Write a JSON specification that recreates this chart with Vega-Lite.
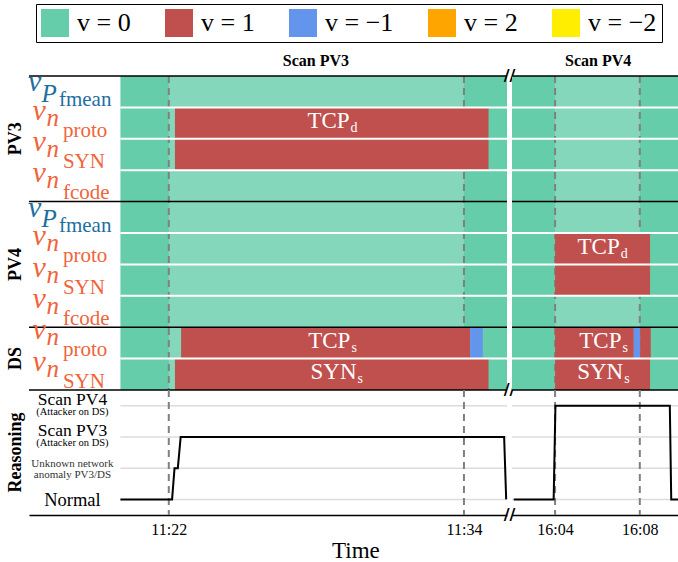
{
  "$schema": "https://vega.github.io/schema/vega-lite/v6.json",
  "background": "white",
  "padding": {"left": 6, "top": 3, "right": 0, "bottom": 4},
  "bounds": "flush",
  "columns": 2,
  "spacing": {"row": 0, "column": 5},
  "config": {"font": "Liberation Serif", "view": {"stroke": null}},
  "title": {"text": "Time", "orient": "bottom", "anchor": "middle", "fontSize": 23, "fontWeight": "normal", "font": "Liberation Serif", "color": "black", "offset": 3, "dx": 11},
  "datasets": {
    "rows": [
      {"row": "PV3 P_fmean", "grp": "PV3", "sym": "v", "var": "P", "sub": "fmean"},
      {"row": "PV3 n_proto", "grp": "PV3", "sym": "v", "var": "n", "sub": "proto"},
      {"row": "PV3 n_SYN", "grp": "PV3", "sym": "v", "var": "n", "sub": "SYN"},
      {"row": "PV3 n_fcode", "grp": "PV3", "sym": "v", "var": "n", "sub": "fcode"},
      {"row": "PV4 P_fmean", "grp": "PV4", "sym": "v", "var": "P", "sub": "fmean"},
      {"row": "PV4 n_proto", "grp": "PV4", "sym": "v", "var": "n", "sub": "proto"},
      {"row": "PV4 n_SYN", "grp": "PV4", "sym": "v", "var": "n", "sub": "SYN"},
      {"row": "PV4 n_fcode", "grp": "PV4", "sym": "v", "var": "n", "sub": "fcode"},
      {"row": "DS n_proto", "grp": "DS", "sym": "v", "var": "n", "sub": "proto"},
      {"row": "DS n_SYN", "grp": "DS", "sym": "v", "var": "n", "sub": "SYN"}
    ],
    "groups": [
      {"grp": "PV3", "row": "PV3 n_proto"},
      {"grp": "PV4", "row": "PV4 n_proto"},
      {"grp": "DS", "row": "DS n_proto"}
    ],
    "titles": [
      {"panel": "L", "t": "2020-01-01T11:27:59", "text": "Scan PV3"},
      {"panel": "R", "t": "2020-01-01T16:06:02", "text": "Scan PV4"}
    ],
    "windows": [
      {"panel": "L", "start": "2020-01-01T11:22:00", "end": "2020-01-01T11:34:00"},
      {"panel": "R", "start": "2020-01-01T16:04:00", "end": "2020-01-01T16:08:00"}
    ],
    "markers": [
      {"panel": "L", "t": "2020-01-01T11:22:00"},
      {"panel": "L", "t": "2020-01-01T11:34:00"},
      {"panel": "R", "t": "2020-01-01T16:04:00"},
      {"panel": "R", "t": "2020-01-01T16:08:00"}
    ],
    "cells": [
      {"panel": "L", "row": "PV3 n_proto", "start": "2020-01-01T11:22:15", "end": "2020-01-01T11:35:00", "v": 1},
      {"panel": "L", "row": "PV3 n_SYN", "start": "2020-01-01T11:22:15", "end": "2020-01-01T11:35:00", "v": 1},
      {"panel": "L", "row": "DS n_proto", "start": "2020-01-01T11:22:30", "end": "2020-01-01T11:34:15", "v": 1},
      {"panel": "L", "row": "DS n_proto", "start": "2020-01-01T11:34:15", "end": "2020-01-01T11:34:46", "v": -1},
      {"panel": "L", "row": "DS n_SYN", "start": "2020-01-01T11:22:15", "end": "2020-01-01T11:35:00", "v": 1},
      {"panel": "R", "row": "PV4 n_proto", "start": "2020-01-01T16:04:00", "end": "2020-01-01T16:08:29", "v": 1},
      {"panel": "R", "row": "PV4 n_SYN", "start": "2020-01-01T16:04:00", "end": "2020-01-01T16:08:29", "v": 1},
      {"panel": "R", "row": "DS n_proto", "start": "2020-01-01T16:04:00", "end": "2020-01-01T16:07:43", "v": 1},
      {"panel": "R", "row": "DS n_proto", "start": "2020-01-01T16:07:43", "end": "2020-01-01T16:08:01", "v": -1},
      {"panel": "R", "row": "DS n_proto", "start": "2020-01-01T16:08:01", "end": "2020-01-01T16:08:31", "v": 1},
      {"panel": "R", "row": "DS n_SYN", "start": "2020-01-01T16:04:00", "end": "2020-01-01T16:08:29", "v": 1}
    ],
    "barLabels": [
      {"panel": "L", "row": "PV3 n_proto", "t": "2020-01-01T11:29:21", "main": "TCP", "sub": "d"},
      {"panel": "L", "row": "DS n_proto", "t": "2020-01-01T11:29:23", "main": "TCP", "sub": "s"},
      {"panel": "L", "row": "DS n_SYN", "t": "2020-01-01T11:29:38", "main": "SYN", "sub": "s"},
      {"panel": "R", "row": "PV4 n_proto", "t": "2020-01-01T16:07:03", "main": "TCP", "sub": "d"},
      {"panel": "R", "row": "DS n_proto", "t": "2020-01-01T16:07:08", "main": "TCP", "sub": "s"},
      {"panel": "R", "row": "DS n_SYN", "t": "2020-01-01T16:07:13", "main": "SYN", "sub": "s"}
    ],
    "levels": [{"level": 0}, {"level": 1}, {"level": 2}, {"level": 3}],
    "reasonLabels": [
      {"level": 3, "line": 1, "text": "Scan PV4"},
      {"level": 3, "line": 2, "text": "(Attacker on DS)"},
      {"level": 2, "line": 1, "text": "Scan PV3"},
      {"level": 2, "line": 2, "text": "(Attacker on DS)"},
      {"level": 1, "line": 1, "text": "Unknown network"},
      {"level": 1, "line": 2, "text": "anomaly PV3/DS"},
      {"level": 0, "line": 1, "text": "Normal"}
    ],
    "reasonL": [
      {"t": "2020-01-01T11:20:02", "level": 0},
      {"t": "2020-01-01T11:22:08", "level": 0},
      {"t": "2020-01-01T11:22:14", "level": 1},
      {"t": "2020-01-01T11:22:22", "level": 1},
      {"t": "2020-01-01T11:22:29", "level": 2},
      {"t": "2020-01-01T11:35:38", "level": 2},
      {"t": "2020-01-01T11:35:43", "level": 0}
    ],
    "reasonR": [
      {"t": "2020-01-01T16:02:03", "level": 0},
      {"t": "2020-01-01T16:03:56", "level": 0},
      {"t": "2020-01-01T16:04:01", "level": 3},
      {"t": "2020-01-01T16:09:25", "level": 3},
      {"t": "2020-01-01T16:09:29", "level": 0},
      {"t": "2020-01-01T16:09:51", "level": 0}
    ],
    "brk": [{"s": "//"}]
  },
  "concat": [
    {
      "width": 478,
      "height": 314,
      "layer": [
        {
          "data": {"name": "rows"},
          "mark": {"type": "rect", "color": "#66cdaa"},
          "encoding": {
            "x": {"datum": {"year": 2020, "month": 1, "date": 1, "hours": 11, "minutes": 20, "seconds": 2}, "type": "temporal", "scale": {"domain": [{"year": 2020, "month": 1, "date": 1, "hours": 11, "minutes": 16, "seconds": 19}, {"year": 2020, "month": 1, "date": 1, "hours": 11, "minutes": 35, "seconds": 45}], "nice": false}, "axis": null},
            "x2": {"datum": {"year": 2020, "month": 1, "date": 1, "hours": 11, "minutes": 35, "seconds": 45}},
            "y": {"field": "row", "type": "nominal", "scale": {"domain": ["PV3 P_fmean", "PV3 n_proto", "PV3 n_SYN", "PV3 n_fcode", "PV4 P_fmean", "PV4 n_proto", "PV4 n_SYN", "PV4 n_fcode", "DS n_proto", "DS n_SYN"], "paddingInner": 0, "paddingOuter": 0}, "axis": null}
          }
        },
        {
          "data": {"name": "windows"},
          "transform": [{"filter": "datum.panel == 'L'"}],
          "mark": {"type": "rect", "color": "white", "opacity": 0.2},
          "encoding": {
            "x": {"field": "start", "type": "temporal", "axis": null},
            "x2": {"field": "end"}
          }
        },
        {
          "data": {"name": "markers"},
          "transform": [{"filter": "datum.panel == 'L'"}],
          "mark": {"type": "rule", "color": "#808080", "strokeWidth": 2, "strokeDash": [7, 5]},
          "encoding": {"x": {"field": "t", "type": "temporal", "axis": null}}
        },
        {
          "data": {"name": "cells"},
          "transform": [{"filter": "datum.panel == 'L'"}],
          "mark": {"type": "rect", "opacity": 1},
          "encoding": {
            "x": {"field": "start", "type": "temporal", "axis": null},
            "x2": {"field": "end"},
            "y": {"field": "row", "type": "nominal", "axis": null},
            "color": {
              "field": "v", "type": "nominal",
              "scale": {"domain": [0, 1, -1, 2, -2], "range": ["#66cdaa", "#c0504d", "#6495ed", "#ffa500", "#ffee00"]},
              "legend": {
                "orient": "none", "legendX": 7, "legendY": -72, "direction": "horizontal", "columns": 5,
                "title": null, "symbolType": "square", "symbolSize": 784, "symbolStrokeWidth": 0, "symbolOpacity": 1,
                "labelFontSize": 26, "labelFont": "Liberation Serif", "labelColor": "black", "labelOffset": 8, "labelLimit": 300,
                "columnPadding": 34, "padding": 5, "strokeColor": "black",
                "labelExpr": "'v = ' + replace(datum.label, '-', '\u2212')"
              }
            }
          }
        },
        {
          "data": {"name": "rows"},
          "transform": [{"filter": "indexof(['PV3 P_fmean','PV4 P_fmean','DS n_proto'], datum.row) < 0"}],
          "mark": {"type": "rule", "color": "white", "strokeWidth": 2},
          "encoding": {
            "y": {"field": "row", "type": "nominal", "bandPosition": 0, "axis": null},
            "x": {"datum": {"year": 2020, "month": 1, "date": 1, "hours": 11, "minutes": 20, "seconds": 2}, "type": "temporal", "axis": null},
            "x2": {"datum": {"year": 2020, "month": 1, "date": 1, "hours": 11, "minutes": 35, "seconds": 45}}
          }
        },
        {
          "data": {"name": "rows"},
          "transform": [{"filter": "indexof(['PV3 P_fmean','PV4 P_fmean','DS n_proto'], datum.row) >= 0"}],
          "mark": {"type": "rule", "color": "black", "strokeWidth": 1.5},
          "encoding": {"y": {"field": "row", "type": "nominal", "bandPosition": 0, "axis": null}}
        },
        {
          "data": {"name": "rows"},
          "transform": [{"filter": "datum.row == 'DS n_SYN'"}],
          "mark": {"type": "rule", "color": "black", "strokeWidth": 1.5},
          "encoding": {"y": {"field": "row", "type": "nominal", "bandPosition": 1, "axis": null}}
        },
        {
          "data": {"name": "barLabels"},
          "transform": [{"filter": "datum.panel == 'L'"}],
          "mark": {"type": "text", "align": "right", "baseline": "alphabetic", "dy": 5, "fontSize": 23, "color": "white"},
          "encoding": {
            "x": {"field": "t", "type": "temporal", "axis": null},
            "y": {"field": "row", "type": "nominal", "axis": null},
            "text": {"field": "main"}
          }
        },
        {
          "data": {"name": "barLabels"},
          "transform": [{"filter": "datum.panel == 'L'"}],
          "mark": {"type": "text", "align": "left", "baseline": "alphabetic", "dx": 1, "dy": 9, "fontSize": 14, "color": "white"},
          "encoding": {
            "x": {"field": "t", "type": "temporal", "axis": null},
            "y": {"field": "row", "type": "nominal", "axis": null},
            "text": {"field": "sub"}
          }
        },
        {
          "data": {"name": "titles"},
          "transform": [{"filter": "datum.panel == 'L'"}],
          "mark": {"type": "text", "align": "center", "baseline": "alphabetic", "dy": -10, "fontSize": 16, "fontWeight": "bold", "color": "black"},
          "encoding": {
            "x": {"field": "t", "type": "temporal", "axis": null},
            "y": {"datum": "PV3 P_fmean", "type": "nominal", "bandPosition": 0, "axis": null},
            "text": {"field": "text"}
          }
        },
        {
          "data": {"name": "rows"},
          "transform": [{"filter": "datum.var == 'P'"}],
          "mark": {"type": "text", "align": "left", "baseline": "alphabetic", "dx": -92.5, "dy": -0.5, "fontSize": 30, "fontStyle": "italic", "color": "#1e6ea0"},
          "encoding": {
            "x": {"datum": {"year": 2020, "month": 1, "date": 1, "hours": 11, "minutes": 20, "seconds": 2}, "type": "temporal", "axis": null},
            "y": {"field": "row", "type": "nominal", "axis": null},
            "text": {"field": "sym"}
          }
        },
        {
          "data": {"name": "rows"},
          "transform": [{"filter": "datum.var == 'P'"}],
          "mark": {"type": "text", "align": "left", "baseline": "alphabetic", "dx": -79, "dy": 10, "fontSize": 25, "fontStyle": "italic", "color": "#1e6ea0"},
          "encoding": {
            "x": {"datum": {"year": 2020, "month": 1, "date": 1, "hours": 11, "minutes": 20, "seconds": 2}, "type": "temporal", "axis": null},
            "y": {"field": "row", "type": "nominal", "axis": null},
            "text": {"field": "var"}
          }
        },
        {
          "data": {"name": "rows"},
          "transform": [{"filter": "datum.var == 'P'"}],
          "mark": {"type": "text", "align": "left", "baseline": "alphabetic", "dx": -61.5, "dy": 14.5, "fontSize": 21, "color": "#1e6ea0"},
          "encoding": {
            "x": {"datum": {"year": 2020, "month": 1, "date": 1, "hours": 11, "minutes": 20, "seconds": 2}, "type": "temporal", "axis": null},
            "y": {"field": "row", "type": "nominal", "axis": null},
            "text": {"field": "sub"}
          }
        },
        {
          "data": {"name": "rows"},
          "transform": [{"filter": "datum.var == 'n'"}],
          "mark": {"type": "text", "align": "left", "baseline": "alphabetic", "dx": -88, "dy": -3.5, "fontSize": 30, "fontStyle": "italic", "color": "#f0643c"},
          "encoding": {
            "x": {"datum": {"year": 2020, "month": 1, "date": 1, "hours": 11, "minutes": 20, "seconds": 2}, "type": "temporal", "axis": null},
            "y": {"field": "row", "type": "nominal", "axis": null},
            "text": {"field": "sym"}
          }
        },
        {
          "data": {"name": "rows"},
          "transform": [{"filter": "datum.var == 'n'"}],
          "mark": {"type": "text", "align": "left", "baseline": "alphabetic", "dx": -74, "dy": 2.5, "fontSize": 25, "fontStyle": "italic", "color": "#f0643c"},
          "encoding": {
            "x": {"datum": {"year": 2020, "month": 1, "date": 1, "hours": 11, "minutes": 20, "seconds": 2}, "type": "temporal", "axis": null},
            "y": {"field": "row", "type": "nominal", "axis": null},
            "text": {"field": "var"}
          }
        },
        {
          "data": {"name": "rows"},
          "transform": [{"filter": "datum.var == 'n'"}],
          "mark": {"type": "text", "align": "left", "baseline": "alphabetic", "dx": -57.5, "dy": 13.5, "fontSize": 21, "color": "#f0643c"},
          "encoding": {
            "x": {"datum": {"year": 2020, "month": 1, "date": 1, "hours": 11, "minutes": 20, "seconds": 2}, "type": "temporal", "axis": null},
            "y": {"field": "row", "type": "nominal", "axis": null},
            "text": {"field": "sub"}
          }
        },
        {
          "data": {"name": "groups"},
          "mark": {"type": "text", "angle": 270, "align": "center", "baseline": "middle", "dy": -104.5, "fontSize": 18, "fontWeight": "bold", "color": "black"},
          "encoding": {
            "x": {"datum": {"year": 2020, "month": 1, "date": 1, "hours": 11, "minutes": 20, "seconds": 2}, "type": "temporal", "axis": null},
            "y": {"field": "row", "type": "nominal", "bandPosition": 1, "axis": null},
            "text": {"field": "grp"}
          }
        },
        {
          "data": {"name": "brk"},
          "mark": {"type": "text", "align": "center", "baseline": "middle", "dx": 2.5, "font": "DejaVu Sans", "fontSize": 16, "fontWeight": "bold", "color": "black"},
          "encoding": {
            "x": {"datum": {"year": 2020, "month": 1, "date": 1, "hours": 11, "minutes": 35, "seconds": 45}, "type": "temporal", "axis": null},
            "y": {"datum": "PV3 P_fmean", "type": "nominal", "bandPosition": 0, "axis": null},
            "text": {"field": "s"}
          }
        },
        {
          "data": {"name": "brk"},
          "mark": {"type": "text", "align": "center", "baseline": "middle", "dx": 2.5, "font": "DejaVu Sans", "fontSize": 16, "fontWeight": "bold", "color": "black"},
          "encoding": {
            "x": {"datum": {"year": 2020, "month": 1, "date": 1, "hours": 11, "minutes": 35, "seconds": 45}, "type": "temporal", "axis": null},
            "y": {"datum": "DS n_SYN", "type": "nominal", "bandPosition": 1, "axis": null},
            "text": {"field": "s"}
          }
        }
      ]
    },
    {
      "width": 167,
      "height": 314,
      "layer": [
        {
          "data": {"name": "rows"},
          "mark": {"type": "rect", "color": "#66cdaa"},
          "encoding": {
            "x": {"datum": {"year": 2020, "month": 1, "date": 1, "hours": 16, "minutes": 1, "seconds": 58}, "type": "temporal", "scale": {"domain": [{"year": 2020, "month": 1, "date": 1, "hours": 16, "minutes": 1, "seconds": 58}, {"year": 2020, "month": 1, "date": 1, "hours": 16, "minutes": 9, "seconds": 51}], "nice": false}, "axis": null},
            "x2": {"datum": {"year": 2020, "month": 1, "date": 1, "hours": 16, "minutes": 9, "seconds": 51}},
            "y": {"field": "row", "type": "nominal", "scale": {"domain": ["PV3 P_fmean", "PV3 n_proto", "PV3 n_SYN", "PV3 n_fcode", "PV4 P_fmean", "PV4 n_proto", "PV4 n_SYN", "PV4 n_fcode", "DS n_proto", "DS n_SYN"], "paddingInner": 0, "paddingOuter": 0}, "axis": null}
          }
        },
        {
          "data": {"name": "windows"},
          "transform": [{"filter": "datum.panel == 'R'"}],
          "mark": {"type": "rect", "color": "white", "opacity": 0.2},
          "encoding": {
            "x": {"field": "start", "type": "temporal", "axis": null},
            "x2": {"field": "end"}
          }
        },
        {
          "data": {"name": "markers"},
          "transform": [{"filter": "datum.panel == 'R'"}],
          "mark": {"type": "rule", "color": "#808080", "strokeWidth": 2, "strokeDash": [7, 5]},
          "encoding": {"x": {"field": "t", "type": "temporal", "axis": null}}
        },
        {
          "data": {"name": "cells"},
          "transform": [{"filter": "datum.panel == 'R'"}],
          "mark": {"type": "rect", "opacity": 1},
          "encoding": {
            "x": {"field": "start", "type": "temporal", "axis": null},
            "x2": {"field": "end"},
            "y": {"field": "row", "type": "nominal", "axis": null},
            "color": {
              "field": "v", "type": "nominal",
              "scale": {"domain": [0, 1, -1, 2, -2], "range": ["#66cdaa", "#c0504d", "#6495ed", "#ffa500", "#ffee00"]},
              "legend": {
                "orient": "none", "legendX": 7, "legendY": -72, "direction": "horizontal", "columns": 5,
                "title": null, "symbolType": "square", "symbolSize": 784, "symbolStrokeWidth": 0, "symbolOpacity": 1,
                "labelFontSize": 26, "labelFont": "Liberation Serif", "labelColor": "black", "labelOffset": 8, "labelLimit": 300,
                "columnPadding": 34, "padding": 5, "strokeColor": "black",
                "labelExpr": "'v = ' + replace(datum.label, '-', '\u2212')"
              }
            }
          }
        },
        {
          "data": {"name": "rows"},
          "transform": [{"filter": "indexof(['PV3 P_fmean','PV4 P_fmean','DS n_proto'], datum.row) < 0"}],
          "mark": {"type": "rule", "color": "white", "strokeWidth": 2},
          "encoding": {"y": {"field": "row", "type": "nominal", "bandPosition": 0, "axis": null}}
        },
        {
          "data": {"name": "rows"},
          "transform": [{"filter": "indexof(['PV3 P_fmean','PV4 P_fmean','DS n_proto'], datum.row) >= 0"}],
          "mark": {"type": "rule", "color": "black", "strokeWidth": 1.5},
          "encoding": {"y": {"field": "row", "type": "nominal", "bandPosition": 0, "axis": null}}
        },
        {
          "data": {"name": "rows"},
          "transform": [{"filter": "datum.row == 'DS n_SYN'"}],
          "mark": {"type": "rule", "color": "black", "strokeWidth": 1.5},
          "encoding": {"y": {"field": "row", "type": "nominal", "bandPosition": 1, "axis": null}}
        },
        {
          "data": {"name": "barLabels"},
          "transform": [{"filter": "datum.panel == 'R'"}],
          "mark": {"type": "text", "align": "right", "baseline": "alphabetic", "dy": 5, "fontSize": 23, "color": "white"},
          "encoding": {
            "x": {"field": "t", "type": "temporal", "axis": null},
            "y": {"field": "row", "type": "nominal", "axis": null},
            "text": {"field": "main"}
          }
        },
        {
          "data": {"name": "barLabels"},
          "transform": [{"filter": "datum.panel == 'R'"}],
          "mark": {"type": "text", "align": "left", "baseline": "alphabetic", "dx": 1, "dy": 9, "fontSize": 14, "color": "white"},
          "encoding": {
            "x": {"field": "t", "type": "temporal", "axis": null},
            "y": {"field": "row", "type": "nominal", "axis": null},
            "text": {"field": "sub"}
          }
        },
        {
          "data": {"name": "titles"},
          "transform": [{"filter": "datum.panel == 'R'"}],
          "mark": {"type": "text", "align": "center", "baseline": "alphabetic", "dy": -10, "fontSize": 16, "fontWeight": "bold", "color": "black"},
          "encoding": {
            "x": {"field": "t", "type": "temporal", "axis": null},
            "y": {"datum": "PV3 P_fmean", "type": "nominal", "bandPosition": 0, "axis": null},
            "text": {"field": "text"}
          }
        }
      ]
    },
    {
      "width": 478,
      "height": 125,
      "layer": [
        {
          "data": {"name": "levels"},
          "mark": {"type": "rule", "color": "#dcdcdc", "strokeWidth": 1.5},
          "encoding": {
            "y": {"field": "level", "type": "quantitative", "scale": {"domain": [-0.5, 3.5], "nice": false, "zero": false}, "axis": null},
            "x": {"datum": {"year": 2020, "month": 1, "date": 1, "hours": 11, "minutes": 20, "seconds": 2}, "type": "temporal", "scale": {"domain": [{"year": 2020, "month": 1, "date": 1, "hours": 11, "minutes": 16, "seconds": 19}, {"year": 2020, "month": 1, "date": 1, "hours": 11, "minutes": 35, "seconds": 45}], "nice": false}},
            "x2": {"datum": {"year": 2020, "month": 1, "date": 1, "hours": 11, "minutes": 35, "seconds": 45}}
          }
        },
        {
          "data": {"name": "markers"},
          "transform": [{"filter": "datum.panel == 'L'"}],
          "mark": {"type": "rule", "color": "#808080", "strokeWidth": 2, "strokeDash": [7, 5]},
          "encoding": {
            "x": {
              "field": "t", "type": "temporal",
              "axis": {
                "values": [{"year": 2020, "month": 1, "date": 1, "hours": 11, "minutes": 22}, {"year": 2020, "month": 1, "date": 1, "hours": 11, "minutes": 34}],
                "format": "%H:%M", "ticks": false, "grid": false, "title": null, "domainColor": "black", "domainWidth": 1.5,
                "labelFontSize": 16, "labelPadding": 6, "labelColor": "black", "labelFlush": false, "labelFont": "Liberation Serif"
              }
            }
          }
        },
        {
          "data": {"name": "reasonL"},
          "mark": {"type": "line", "color": "black", "strokeWidth": 2},
          "encoding": {
            "x": {"field": "t", "type": "temporal"},
            "y": {"field": "level", "type": "quantitative", "axis": null}
          }
        },
        {
          "data": {"name": "reasonLabels"},
          "transform": [{"filter": "datum.level >= 2 && datum.line == 1"}],
          "mark": {"type": "text", "align": "center", "baseline": "alphabetic", "dx": -48, "dy": -0.5, "fontSize": 17.5, "color": "black"},
          "encoding": {
            "x": {"datum": {"year": 2020, "month": 1, "date": 1, "hours": 11, "minutes": 20, "seconds": 2}, "type": "temporal"},
            "y": {"field": "level", "type": "quantitative", "axis": null},
            "text": {"field": "text"}
          }
        },
        {
          "data": {"name": "reasonLabels"},
          "transform": [{"filter": "datum.level >= 2 && datum.line == 2"}],
          "mark": {"type": "text", "align": "center", "baseline": "alphabetic", "dx": -48, "dy": 9, "fontSize": 10.5, "color": "black"},
          "encoding": {
            "x": {"datum": {"year": 2020, "month": 1, "date": 1, "hours": 11, "minutes": 20, "seconds": 2}, "type": "temporal"},
            "y": {"field": "level", "type": "quantitative", "axis": null},
            "text": {"field": "text"}
          }
        },
        {
          "data": {"name": "reasonLabels"},
          "transform": [{"filter": "datum.level == 1 && datum.line == 1"}],
          "mark": {"type": "text", "align": "center", "baseline": "alphabetic", "dx": -48, "dy": -1.5, "fontSize": 11, "color": "#333333"},
          "encoding": {
            "x": {"datum": {"year": 2020, "month": 1, "date": 1, "hours": 11, "minutes": 20, "seconds": 2}, "type": "temporal"},
            "y": {"field": "level", "type": "quantitative", "axis": null},
            "text": {"field": "text"}
          }
        },
        {
          "data": {"name": "reasonLabels"},
          "transform": [{"filter": "datum.level == 1 && datum.line == 2"}],
          "mark": {"type": "text", "align": "center", "baseline": "alphabetic", "dx": -48, "dy": 9.5, "fontSize": 11, "color": "#333333"},
          "encoding": {
            "x": {"datum": {"year": 2020, "month": 1, "date": 1, "hours": 11, "minutes": 20, "seconds": 2}, "type": "temporal"},
            "y": {"field": "level", "type": "quantitative", "axis": null},
            "text": {"field": "text"}
          }
        },
        {
          "data": {"name": "reasonLabels"},
          "transform": [{"filter": "datum.level == 0"}],
          "mark": {"type": "text", "align": "center", "baseline": "alphabetic", "dx": -48, "dy": 6.5, "fontSize": 18.5, "color": "black"},
          "encoding": {
            "x": {"datum": {"year": 2020, "month": 1, "date": 1, "hours": 11, "minutes": 20, "seconds": 2}, "type": "temporal"},
            "y": {"field": "level", "type": "quantitative", "axis": null},
            "text": {"field": "text"}
          }
        },
        {
          "data": {"values": [{"grp": "Reasoning"}]},
          "mark": {"type": "text", "angle": 270, "align": "center", "baseline": "middle", "dy": -104.5, "fontSize": 18, "fontWeight": "bold", "color": "black"},
          "encoding": {
            "x": {"datum": {"year": 2020, "month": 1, "date": 1, "hours": 11, "minutes": 20, "seconds": 2}, "type": "temporal"},
            "y": {"datum": 1.5, "type": "quantitative", "axis": null},
            "text": {"field": "grp"}
          }
        },
        {
          "data": {"name": "brk"},
          "mark": {"type": "text", "align": "center", "baseline": "middle", "dx": 2.5, "font": "DejaVu Sans", "fontSize": 16, "fontWeight": "bold", "color": "black"},
          "encoding": {
            "x": {"datum": {"year": 2020, "month": 1, "date": 1, "hours": 11, "minutes": 35, "seconds": 45}, "type": "temporal"},
            "y": {"datum": -0.5, "type": "quantitative", "axis": null},
            "text": {"field": "s"}
          }
        }
      ]
    },
    {
      "width": 167,
      "height": 125,
      "layer": [
        {
          "data": {"name": "levels"},
          "mark": {"type": "rule", "color": "#dcdcdc", "strokeWidth": 1.5},
          "encoding": {
            "y": {"field": "level", "type": "quantitative", "scale": {"domain": [-0.5, 3.5], "nice": false, "zero": false}, "axis": null}
          }
        },
        {
          "data": {"name": "markers"},
          "transform": [{"filter": "datum.panel == 'R'"}],
          "mark": {"type": "rule", "color": "#808080", "strokeWidth": 2, "strokeDash": [7, 5]},
          "encoding": {
            "x": {
              "field": "t", "type": "temporal",
              "scale": {"domain": [{"year": 2020, "month": 1, "date": 1, "hours": 16, "minutes": 1, "seconds": 58}, {"year": 2020, "month": 1, "date": 1, "hours": 16, "minutes": 9, "seconds": 51}], "nice": false},
              "axis": {
                "values": [{"year": 2020, "month": 1, "date": 1, "hours": 16, "minutes": 4}, {"year": 2020, "month": 1, "date": 1, "hours": 16, "minutes": 8}],
                "format": "%H:%M", "ticks": false, "grid": false, "title": null, "domainColor": "black", "domainWidth": 1.5,
                "labelFontSize": 16, "labelPadding": 6, "labelColor": "black", "labelFlush": false, "labelFont": "Liberation Serif"
              }
            }
          }
        },
        {
          "data": {"name": "reasonR"},
          "mark": {"type": "line", "color": "black", "strokeWidth": 2},
          "encoding": {
            "x": {"field": "t", "type": "temporal"},
            "y": {"field": "level", "type": "quantitative", "axis": null}
          }
        }
      ]
    }
  ]
}
